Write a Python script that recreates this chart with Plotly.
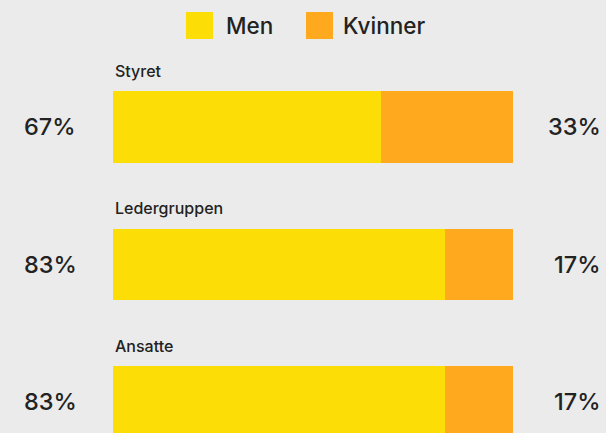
"""Kjønnsfordeling i styret, ledergruppen og blant ansatte."""
import plotly.graph_objects as go

categories = ["Styret", "Ledergruppen", "Ansatte"]
men = [67, 83, 83]
kvinner = [33, 17, 17]
series_names = ["Men", "Kvinner"]

BG = "#ebebeb"
YELLOW = "#fcdd06"
ORANGE = "#ffa91f"
TEXT = "#222222"
FONT = "Inter, 'Open Sans', sans-serif"

W, H = 606, 433
L, R = 113, 93
ypos = list(range(len(categories)))

fig = go.Figure()
for name, vals, color in zip(series_names, [men, kvinner], [YELLOW, ORANGE]):
    fig.add_trace(go.Bar(
        x=vals, y=ypos, orientation="h", name=name,
        marker=dict(color=color, line=dict(width=0)),
        width=0.5236, showlegend=False, hoverinfo="skip",
    ))

annotations = []
for i, cat in enumerate(categories):
    annotations.append(dict(
        x=0, xref="x", y=i - 0.41, yref="y", text=cat,
        xanchor="left", yanchor="middle", showarrow=False,
        font=dict(size=16, color=TEXT, family=FONT, weight=500),
    ))
    annotations.append(dict(
        x=(22 - L) / 400, xref="paper", y=i, yref="y", text=f"{men[i]}%",
        xanchor="left", yanchor="middle", showarrow=False,
        font=dict(size=23.5, color=TEXT, family=FONT, weight=500),
    ))
    annotations.append(dict(
        x=(603 - L) / 400, xref="paper", y=i, yref="y", text=f"{kvinner[i]}%",
        xanchor="right", yanchor="middle", showarrow=False,
        font=dict(size=23.5, color=TEXT, family=FONT, weight=500),
    ))

# legende tegnet manuelt for store firkanter
shapes = []
leg = [(186, 224, YELLOW), (306, 341, ORANGE)]
for name, (sx, tx, color) in zip(series_names, leg):
    shapes.append(dict(
        type="rect", xref="paper", yref="paper",
        x0=(sx - L) / 400, x1=(sx + 27 - L) / 400,
        y0=1 - 39 / H, y1=1 - 12 / H,
        fillcolor=color, line=dict(width=0),
    ))
    annotations.append(dict(
        x=(tx - L) / 400, xref="paper", y=1 - 25.5 / H, yref="paper",
        text=name, xanchor="left", yanchor="middle", showarrow=False,
        font=dict(size=22.5, color=TEXT, family=FONT, weight=500),
    ))

fig.update_layout(
    barmode="stack",
    width=W, height=H,
    margin=dict(l=L, r=R, t=0, b=0, pad=0),
    plot_bgcolor=BG, paper_bgcolor=BG,
    annotations=annotations, shapes=shapes,
    bargap=0,
)
fig.update_xaxes(range=[0, 100], visible=False, fixedrange=True)
fig.update_yaxes(range=[2.2255, -0.9236], visible=False, fixedrange=True)

fig.write_html(
    "out.html",
    config={"displayModeBar": False},
    post_script="document.body.style.margin='0';"
                "document.body.style.overflow='hidden';"
                "document.body.style.background='#ebebeb';",
)
